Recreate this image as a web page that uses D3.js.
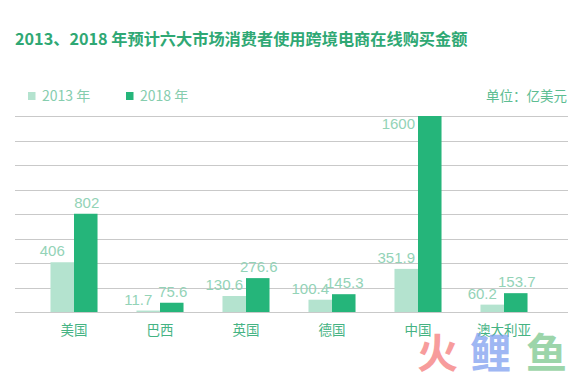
<!DOCTYPE html>
<html>
<head>
<meta charset="utf-8">
<script src="https://cdn.jsdelivr.net/npm/d3@7"></script>
<style>
  body { margin: 0; background: #fff; }
  svg { display: block; font-family: "Noto Sans CJK SC", "Liberation Sans", sans-serif; }
</style>
</head>
<body>
<svg width="586" height="377"></svg>
<script>
const countries = ['美国', '巴西', '英国', '德国', '中国', '澳大利亚'];
const years = ['2013 年', '2018 年'];
const values2013 = [406, 11.7, 130.6, 100.4, 351.9, 60.2];
const values2018 = [802, 75.6, 276.6, 145.3, 1600, 153.7];
const yTicks = [0, 200, 400, 600, 800, 1000, 1200, 1400, 1600];

const colors = ['#b4e3cf', '#25b57a'];
const svg = d3.select('svg');

// title
svg.append('text')
    .attr('x', 15)
    .attr('y', 45)
    .attr('fill', '#2fa874')
    .style('font-size', '16.2px')
    .style('font-weight', 'bold')
    .text('2013、2018 年预计六大市场消费者使用跨境电商在线购买金额');

const x = d3.scaleBand()
    .domain(countries)
    .range([31, 547])
    .paddingInner(0.453)
    .paddingOuter(0.2265);

const xi = d3.scaleBand()
    .domain(years)
    .range([0, x.bandwidth()]);

const y = d3.scaleLinear()
    .domain([0, 1600])
    .range([312, 116]);

// grid lines
svg.append('g')
    .selectAll('line')
    .data(yTicks)
    .join('line')
    .attr('x1', 15)
    .attr('x2', 568)
    .attr('y1', d => Math.round(y(d)) + 0.5)
    .attr('y2', d => Math.round(y(d)) + 0.5)
    .style('stroke', '#c9c9c9')
    .style('stroke-width', 1.2);

// bars
const series = [values2013, values2018];
const groups = svg.append('g')
    .selectAll('g')
    .data(series)
    .join('g')
    .attr('fill', (d, i) => colors[i]);

groups.selectAll('rect')
    .data((d, i) => d.map((v, j) => ({ v, c: countries[j], s: i })))
    .join('rect')
    .attr('x', d => x(d.c) + xi(years[d.s]))
    .attr('y', d => y(d.v))
    .attr('width', xi.bandwidth())
    .attr('height', d => y(0) - y(d.v));

// value labels
groups.selectAll('text')
    .data((d, i) => d.map((v, j) => ({ v, c: countries[j], s: i })))
    .join('text')
    .attr('x', d => {
        const cx = x(d.c) + xi(years[d.s]) + xi.bandwidth() / 2;
        if (d.v === 1600) return x(d.c) + xi(years[d.s]) - 3;
        return d.s === 0 ? cx - 10 : cx + 1;
    })
    .attr('y', d => d.v === 1600 ? y(d.v) + 13 : y(d.v) - 6)
    .attr('text-anchor', d => d.v === 1600 ? 'end' : 'middle')
    .attr('fill', '#93d3b7')
    .style('font-family', '"Liberation Sans", sans-serif')
    .style('font-size', '15px')
    .text(d => d.v);

// x axis labels
svg.append('g')
    .selectAll('text')
    .data(countries)
    .join('text')
    .attr('x', d => x(d) + x.bandwidth() / 2)
    .attr('y', 335)
    .attr('text-anchor', 'middle')
    .attr('fill', '#45b383')
    .style('font-size', '13.5px')
    .text(d => d);

// legend
const legend = svg.append('g')
    .selectAll('g')
    .data(years)
    .join('g')
    .attr('transform', (d, i) => `translate(${28 + i * 98},92)`);

legend.append('rect')
    .attr('width', 7.5)
    .attr('height', 8)
    .attr('fill', (d, i) => colors[i]);

legend.append('text')
    .attr('x', 14)
    .attr('y', 9)
    .attr('fill', '#86cdae')
    .style('font-size', '14px')
    .text(d => d);

svg.append('text')
    .attr('x', 567)
    .attr('y', 101)
    .attr('text-anchor', 'end')
    .attr('fill', '#5dbd92')
    .style('font-size', '13.5px')
    .text('单位：亿美元');

// watermark
const mark = svg.append('g').attr('opacity', 0.75).style('font-size', '41px').style('font-weight', 'bold');
[['火', '#f57c7c', 417], ['鲤', '#7f9ff0', 470], ['鱼', '#7cc88e', 526]].forEach(([t, c, px]) => {
    mark.append('text').attr('x', px).attr('y', 368).attr('fill', c).text(t);
});
</script>
</body>
</html>
